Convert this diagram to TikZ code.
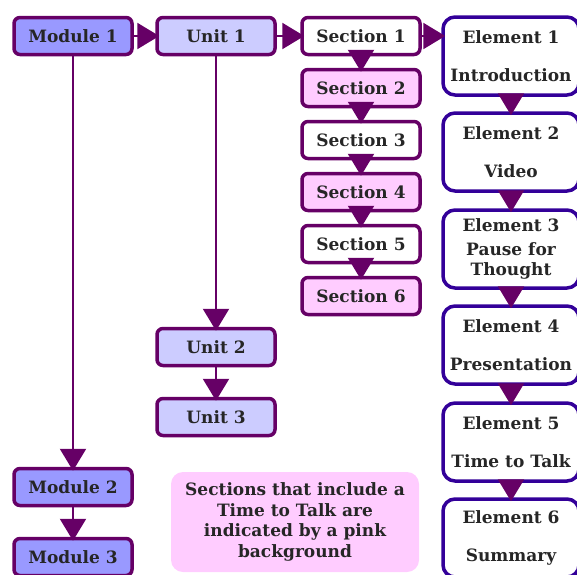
\documentclass[tikz,border=0pt]{standalone}
\usepackage{fontspec}
\setmainfont{DejaVu Serif}
\usetikzlibrary{positioning,arrows.meta}
\definecolor{plum}{HTML}{660066}
\definecolor{modblue}{HTML}{9999FF}
\definecolor{unitblue}{HTML}{CCCCFF}
\definecolor{secpink}{HTML}{FFCCFF}
\definecolor{elemblue}{HTML}{330099}
\tikzset{dbox/.style={draw=plum, line width=3.5pt, rounded corners=6, minimum width=118pt, minimum height=37pt, inner sep=0pt, font=\fontsize{17}{20}\selectfont\bfseries, text=black!85}}
\tikzset{mbox/.style={dbox, fill=modblue}}
\tikzset{ubox/.style={dbox, fill=unitblue}}
\tikzset{sbox/.style={dbox, fill=white}}
\tikzset{spink/.style={dbox, fill=secpink}}
\tikzset{ebox/.style={dbox, draw=elemblue, fill=white, rounded corners=12, minimum width=136pt, minimum height=78pt, align=center}}
\tikzset{note/.style={fill=secpink, rounded corners=12, minimum width=248pt, minimum height=100pt, align=center, font=\fontsize{17}{20.5}\selectfont\bfseries, text=black!85}}
\tikzset{arr/.style={draw=plum, line width=2.2pt, -{Triangle[width=26pt,length=22pt]}, shorten >=-4pt}}
\begin{document}
\begin{tikzpicture}[x=1pt, y=-1pt]
            \useasboundingbox (0,0) rectangle (577,574);
            \clip (0,0) rectangle (577,574);
            \node[mbox] (m1) at (73,36) {Module 1};
            \node[mbox] (m2) at (73,487) {Module 2};
            \node[mbox] (m3) at (73,557) {Module 3};
            \node[ubox] (u1) at (216,36) {Unit 1};
            \node[ubox] (u2) at (216,347) {Unit 2};
            \node[ubox] (u3) at (216,417) {Unit 3};
            \node[sbox] (s1) at (361,36) {Section 1};
            \node[spink] (s2) at (361,88) {Section 2};
            \node[sbox] (s3) at (361,140) {Section 3};
            \node[spink] (s4) at (361,192) {Section 4};
            \node[sbox] (s5) at (361,244) {Section 5};
            \node[spink] (s6) at (361,296) {Section 6};
            \node[ebox] (e1) at (511,56) {Element 1\\[18pt]Introduction};
            \node[ebox] (e2) at (511,152) {Element 2\\[18pt]Video};
            \node[ebox] (e3) at (511,249) {Element 3\\[4pt]Pause for\\Thought};
            \node[ebox] (e4) at (511,345) {Element 4\\[18pt]Presentation};
            \node[ebox] (e5) at (511,442) {Element 5\\[18pt]Time to Talk};
            \node[ebox] (e6) at (511,538) {Element 6\\[18pt]Summary};
            \node[note] (key) at (295,522) {Sections that include a\\Time to Talk are\\indicated by a pink\\background};
            \draw[arr] (m1) -- (u1);
            \draw[arr] (u1) -- (s1);
            \draw[arr] (s1) -- (s1 -| e1.west);
            \draw[arr] (m1) -- (m2);
            \draw[arr] (m2) -- (m3);
            \draw[arr] (u1) -- (u2);
            \draw[arr] (u2) -- (u3);
            \draw[arr] (s1) -- (s2);
            \draw[arr] (s2) -- (s3);
            \draw[arr] (s3) -- (s4);
            \draw[arr] (s4) -- (s5);
            \draw[arr] (s5) -- (s6);
            \draw[arr] (e1) -- (e2);
            \draw[arr] (e2) -- (e3);
            \draw[arr] (e3) -- (e4);
            \draw[arr] (e4) -- (e5);
            \draw[arr] (e5) -- (e6);
        \end{tikzpicture}
\end{document}
